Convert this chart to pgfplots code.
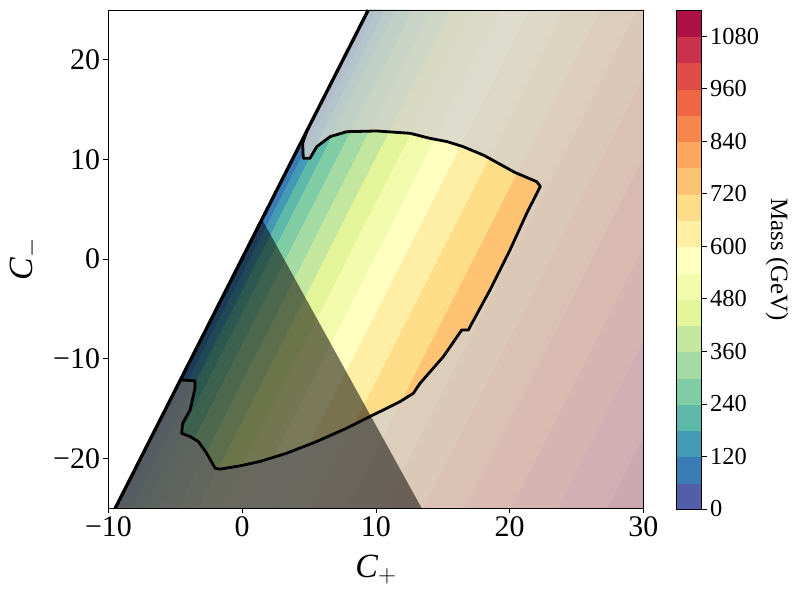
\documentclass[border=0pt]{standalone}
\usepackage{fontspec}
\setmainfont{Liberation Serif}
\usepackage{pgfplots}
\pgfplotsset{compat=1.18}

% Spectral_r, one colour per 60 GeV band
\definecolor{c0}{RGB}{82,94,169}
\definecolor{c1}{RGB}{59,124,183}
\definecolor{c2}{RGB}{66,154,181}
\definecolor{c3}{RGB}{94,185,169}
\definecolor{c4}{RGB}{127,204,165}
\definecolor{c5}{RGB}{164,218,164}
\definecolor{c6}{RGB}{196,231,159}
\definecolor{c7}{RGB}{227,244,153}
\definecolor{c8}{RGB}{242,250,171}
\definecolor{c9}{RGB}{255,255,191}
\definecolor{c10}{RGB}{254,239,164}
\definecolor{c11}{RGB}{254,221,137}
\definecolor{c12}{RGB}{253,195,115}
\definecolor{c13}{RGB}{252,167,94}
\definecolor{c14}{RGB}{247,133,78}
\definecolor{c15}{RGB}{239,102,69}
\definecolor{c16}{RGB}{223,77,75}
\definecolor{c17}{RGB}{201,49,76}
\definecolor{c18}{RGB}{172,17,69}
\definecolor{fade}{RGB}{212,210,208}

% band: colour, x at C-=-25 (low, high), x at C-=25 (high, low)
\newcommand{\band}[5]{\addplot[fill=#1, draw=#1, line width=0.2bp] coordinates {(#2,-25) (#3,-25) (#4,25) (#5,25)} -- cycle;}
\newcommand{\cbar}[3]{\addplot[fill=#1, draw=#1, line width=0.2bp] coordinates {(0,#2) (1,#2) (1,#3) (0,#3)} -- cycle;}

\begin{document}
\begin{tikzpicture}
\begin{axis}[
	at={(0,0)}, anchor=south west,
	scale only axis,
	width=534.8bp, height=498.3bp,
	xmin=-10, xmax=30, ymin=-25, ymax=25,
	xtick={-10,0,10,20,30}, xticklabels={−10,0,10,20,30},
	ytick={-20,-10,0,10,20}, yticklabels={−20,−10,0,10,20},
	xtick pos=bottom, ytick pos=left,
	tick align=outside, major tick length=5bp,
	tick style={black, line width=0.8bp},
	axis line style={black, line width=0.8bp},
	ticklabel style={font=\fontsize{30}{34}\selectfont},
	label style={font=\fontsize{34}{40}\selectfont},
	xlabel={$\textit{C}_{+}$}, ylabel={$\textit{C}_{-}$},
	xlabel style={yshift=-11bp},
	ylabel style={yshift=6bp},
	axis on top,
]
\band{c0}{-9.50}{-9.33}{9.60}{9.43}
\band{c1}{-9.33}{-8.88}{10.05}{9.60}
\band{c2}{-8.88}{-8.25}{10.68}{10.05}
\band{c3}{-8.25}{-7.40}{11.53}{10.68}
\band{c4}{-7.40}{-6.20}{12.73}{11.53}
\band{c5}{-6.20}{-4.80}{14.13}{12.73}
\band{c6}{-4.80}{-3.30}{15.63}{14.13}
\band{c7}{-3.30}{-1.60}{17.33}{15.63}
\band{c8}{-1.60}{0.40}{19.33}{17.33}
\band{c9}{0.40}{2.60}{21.53}{19.33}
\band{c10}{2.60}{5.20}{24.13}{21.53}
\band{c11}{5.20}{7.85}{26.78}{24.13}
\band{c12}{7.85}{10.60}{29.53}{26.78}
\band{c13}{10.60}{13.60}{32.53}{29.53}
\band{c14}{13.60}{16.70}{35.63}{32.53}
\band{c15}{16.70}{20.10}{39.03}{35.63}
\band{c16}{20.10}{23.60}{42.53}{39.03}
\band{c17}{23.60}{27.30}{46.23}{42.53}
\band{c18}{27.30}{31.10}{50.03}{46.23}

% faded region outside the allowed contour
\addplot[fill=fade, fill opacity=0.78, draw=none] coordinates {
	(4.82,12.8) (9.43,25) (30,25) (30,-25) (-9.5,-25) (-4.55,-12.13)
	(-3.53,-12.2) (-3.53,-12.96) (-3.90,-15.14) (-4.45,-16.47) (-4.53,-17.47)
	(-3.90,-17.8) (-3.28,-18.3) (-2.66,-19.47) (-2.03,-20.97) (-1.66,-21.07)
	(-0.16,-20.74) (1.33,-20.3) (3.33,-19.47) (5.57,-18.3) (7.82,-16.96)
	(9.80,-15.63) (11.8,-14.3) (12.8,-13.46) (13.3,-12.46) (13.95,-11.46)
	(15.04,-9.79) (16.42,-7.11) (16.91,-7.11) (18.53,-3.1) (20.03,0.92)
	(21.28,4.6) (22.3,7.3) (22.03,7.77) (20.4,8.7) (18.1,10.4) (16.5,11.3)
	(15.3,11.8) (14.05,12.12) (12.55,12.63) (10.06,12.86) (7.82,12.79)
	(6.57,12.29) (5.57,11.28) (5.07,10.12) (4.57,10.12) (4.52,11.63) (4.82,12.8)
} -- cycle;

% dark triangle
\addplot[fill=black, fill opacity=0.52, draw=none] coordinates {
	(1.5,3.95) (13.43,-25) (-9.5,-25)
} -- cycle;

% allowed contour
\addplot[black, line width=2.8bp, line join=round] coordinates {
	(-4.55,-12.13)
	(-3.53,-12.2) (-3.53,-12.96) (-3.90,-15.14) (-4.45,-16.47) (-4.53,-17.47)
	(-3.90,-17.8) (-3.28,-18.3) (-2.66,-19.47) (-2.03,-20.97) (-1.66,-21.07)
	(-0.16,-20.74) (1.33,-20.3) (3.33,-19.47) (5.57,-18.3) (7.82,-16.96)
	(9.80,-15.63) (11.8,-14.3) (12.8,-13.46) (13.3,-12.46) (13.95,-11.46)
	(15.04,-9.79) (16.42,-7.11) (16.91,-7.11) (18.53,-3.1) (20.03,0.92)
	(21.28,4.6) (22.3,7.3) (22.03,7.77) (20.4,8.7) (18.1,10.4) (16.5,11.3)
	(15.3,11.8) (14.05,12.12) (12.55,12.63) (10.06,12.86) (7.82,12.79)
	(6.57,12.29) (5.57,11.28) (5.07,10.12) (4.57,10.12) (4.52,11.63) (4.82,12.8)
};
% edge of the region where the mass is defined
\addplot[black, line width=3.3bp] coordinates {(-9.5,-25) (9.43,25)};
\end{axis}

\begin{axis}[
	at={(567.5bp,-0.7bp)}, anchor=south west,
	scale only axis,
	width=25.7bp, height=499bp,
	xmin=0, xmax=1, ymin=0, ymax=1140,
	xtick=\empty,
	ytick={0,120,240,360,480,600,720,840,960,1080},
	yticklabels={0,120,240,360,480,600,720,840,960,1080},
	yticklabel pos=right, ytick pos=right,
	tick align=outside, major tick length=5bp,
	tick style={black, line width=0.8bp},
	axis line style={black, line width=0.8bp},
	ticklabel style={font=\fontsize{24.5}{28}\selectfont},
	ylabel={Mass (GeV)},
	ylabel near ticks,
	ylabel style={font=\fontsize{25}{29}\selectfont, rotate=180},
	axis on top,
]
\cbar{c0}{0}{60}
\cbar{c1}{60}{120}
\cbar{c2}{120}{180}
\cbar{c3}{180}{240}
\cbar{c4}{240}{300}
\cbar{c5}{300}{360}
\cbar{c6}{360}{420}
\cbar{c7}{420}{480}
\cbar{c8}{480}{540}
\cbar{c9}{540}{600}
\cbar{c10}{600}{660}
\cbar{c11}{660}{720}
\cbar{c12}{720}{780}
\cbar{c13}{780}{840}
\cbar{c14}{840}{900}
\cbar{c15}{900}{960}
\cbar{c16}{960}{1020}
\cbar{c17}{1020}{1080}
\cbar{c18}{1080}{1140}
\end{axis}
\path[use as bounding box] (-108.5bp,-87.7bp) rectangle (684.5bp,508.3bp);
\end{tikzpicture}
\end{document}
